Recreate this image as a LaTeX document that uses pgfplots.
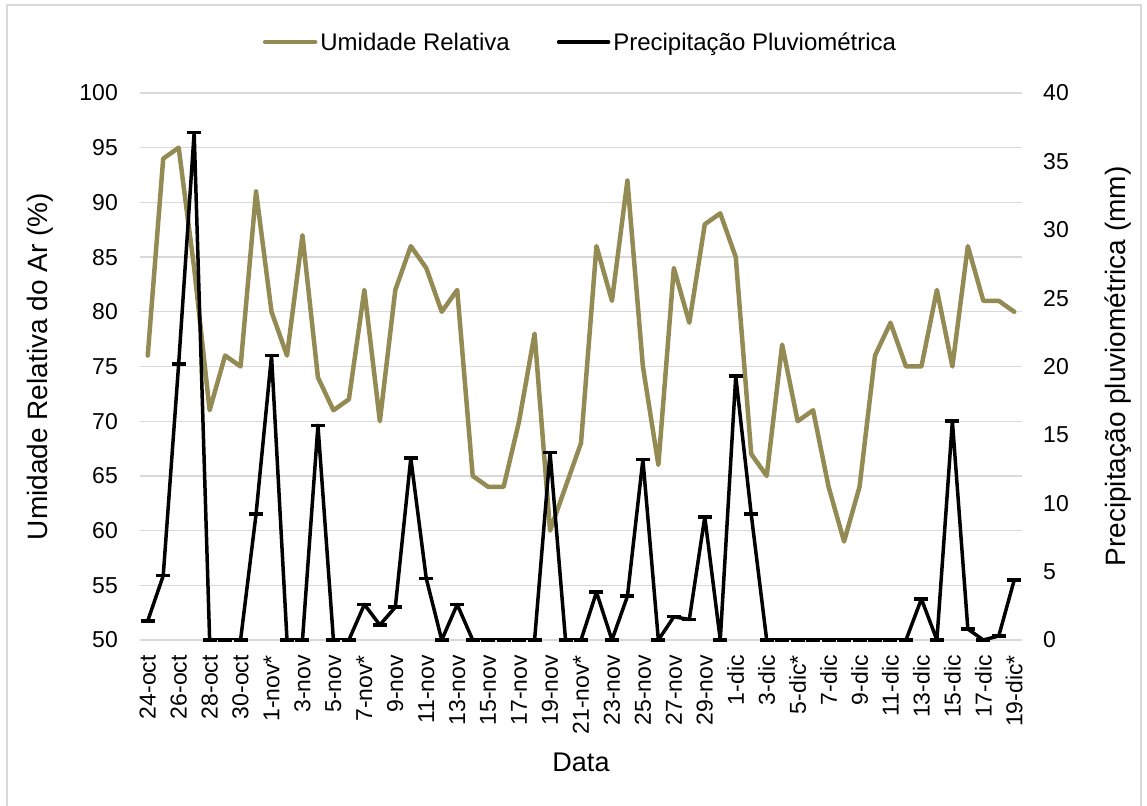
\documentclass[border=0pt]{standalone}
\usepackage{fontspec}
\setmainfont{Liberation Sans}
\usepackage{pgfplots}
\usepackage{pgfplotstable}
\pgfplotsset{compat=1.18}
\definecolor{umid}{HTML}{948A54}
\definecolor{grade}{HTML}{D9D9D9}

% i = dia desde 24-oct, ur = umidade relativa (%), pp = precipitacao (mm)
\pgfplotstableread{
i  ur  pp
0  76  1.4
1  94  4.7
2  95  20.2
3  84  37.1
4  71  0
5  76  0
6  75  0
7  91  9.2
8  80  20.8
9  76  0
10 87  0
11 74  15.7
12 71  0
13 72  0
14 82  2.6
15 70  1.1
16 82  2.4
17 86  13.3
18 84  4.5
19 80  0
20 82  2.6
21 65  0
22 64  0
23 64  0
24 70  0
25 78  0
26 60  13.7
27 64  0
28 68  0
29 86  3.5
30 81  0
31 92  3.2
32 75  13.2
33 66  0
34 84  1.7
35 79  1.5
36 88  9.0
37 89  0
38 85  19.3
39 67  9.2
40 65  0
41 77  0
42 70  0
43 71  0
44 64  0
45 59  0
46 64  0
47 76  0
48 79  0
49 75  0
50 75  3.0
51 82  0
52 75  16.0
53 86  0.8
54 81  0
55 81  0.3
56 80  4.4
}\dados

\newcommand{\rotfont}{\fontsize{28}{33}\selectfont}

\begin{document}
\begin{tikzpicture}
\pgfplotsset{
  base/.style={
    scale only axis, width=882pt, height=547pt,
    at={(140pt,165pt)}, anchor=south west,
    xmin=-0.5, xmax=56.5,
    axis line style={draw=none},
    major tick length=0pt,
    tick label style={font=\fontsize{23}{27}\selectfont},
    /pgf/number format/assume math mode=true,
    every axis y label/.style={at={(axis description cs:-0.1134,0.5)}, rotate=90, anchor=center, font=\rotfont},
    every axis x label/.style={at={(axis description cs:0.5,-0.223)}, anchor=center, font=\fontsize{27}{32}\selectfont},
  }
}
\begin{axis}[base,
  ymin=50, ymax=100, ytick={50,55,...,100},
  ymajorgrids, grid style={grade, line width=1.3pt},
  xtick={0,2,...,56},
  xticklabels={24-oct,26-oct,28-oct,30-oct,1-nov*,3-nov,5-nov,7-nov*,9-nov,11-nov,13-nov,15-nov,17-nov,19-nov,21-nov*,23-nov,25-nov,27-nov,29-nov,1-dic,3-dic,5-dic*,7-dic,9-dic,11-dic,13-dic,15-dic,17-dic,19-dic*},
  xticklabel style={rotate=90, anchor=east, inner ysep=0pt, inner xsep=15pt},
  yticklabel style={inner xsep=0pt, xshift=-22pt},
  xlabel={Data},
  ylabel={Umidade Relativa do Ar (\%)},
]
\addplot[umid, line width=4.5pt, line join=round, line cap=round, no marks]
  table[x=i, y=ur]{\dados};
\end{axis}
\begin{axis}[base,
  ymin=0, ymax=40, ytick={0,5,...,40},
  axis x line=none, axis y line*=right,
  xtick=\empty,
  yticklabel style={inner xsep=0pt, xshift=21pt},
  every axis y label/.style={at={(axis description cs:1.109,0.5)}, rotate=90, anchor=center, font=\rotfont},
  ylabel={Precipitação pluviométrica (mm)},
  legend style={draw=none, fill=none, at={(0.5,1.093)}, anchor=center,
    legend columns=2, font=\fontsize{24}{28}\selectfont,
    nodes={inner xsep=3pt},
    /tikz/every even column/.append style={column sep=44pt}},
  legend image code/.code={\draw[line cap=round] (0pt,0pt) -- (50pt,0pt);},
]
\addlegendimage{umid, line width=4.5pt}
\addlegendentry{Umidade Relativa}
\addplot[black, line width=3.5pt, line join=round, mark=-, mark size=7pt,
  mark options={line width=3.5pt}]
  table[x=i, y=pp]{\dados};
\addlegendentry{Precipitação Pluviométrica}
\end{axis}
\draw[grade, line width=1.3pt] (7pt,-20pt) -- (7pt,800pt) -- (1141pt,800pt) -- (1141pt,-20pt);
\pgfresetboundingbox
\path[use as bounding box] (0pt,0pt) rectangle (1147pt,805pt);
\end{tikzpicture}
\end{document}
